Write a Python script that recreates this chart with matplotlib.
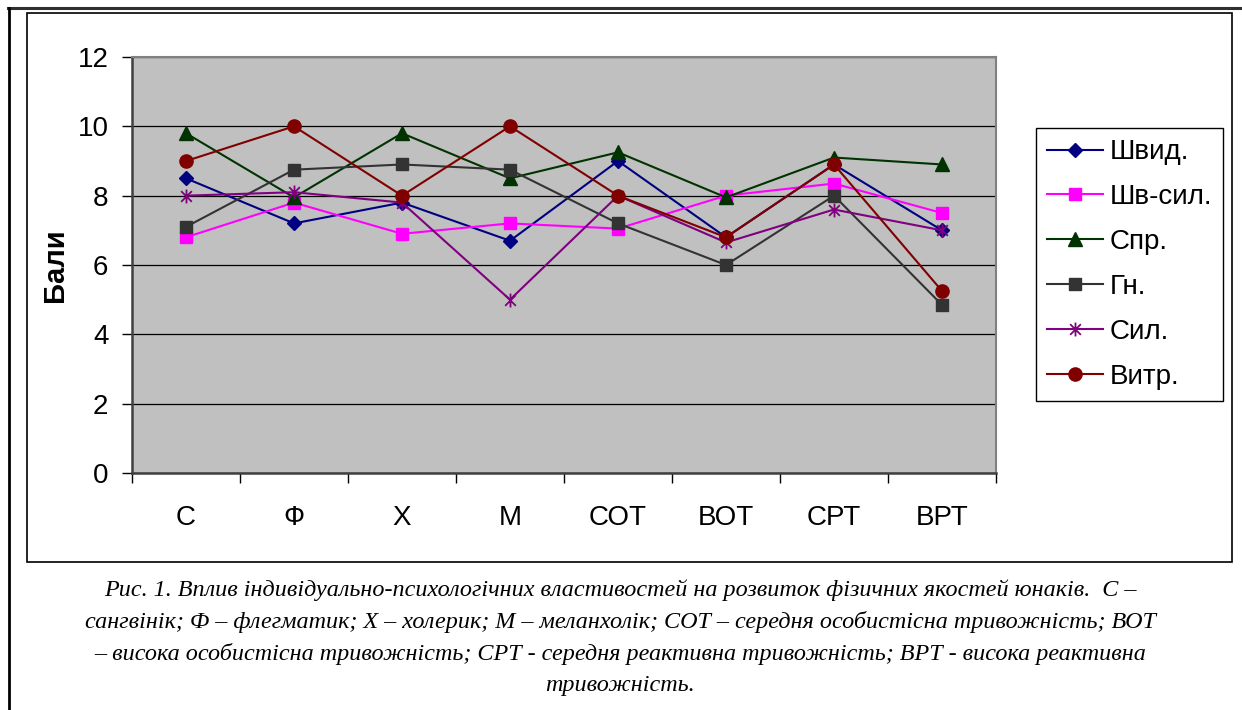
import numpy as np
import matplotlib
matplotlib.use('Agg')
import matplotlib.pyplot as plt
from matplotlib.path import Path
from matplotlib.lines import Line2D
from matplotlib.patches import Rectangle

categories = ['С', 'Ф', 'Х', 'М', 'СОТ', 'ВОТ', 'СРТ', 'ВРТ']

shvyd = [8.5, 7.2, 7.8, 6.7, 9.0, 6.8, 8.9, 7.0]
shv_syl = [6.8, 7.8, 6.9, 7.2, 7.05, 8.0, 8.35, 7.5]
spr = [9.8, 7.95, 9.8, 8.5, 9.25, 7.95, 9.1, 8.9]
gn = [7.1, 8.75, 8.9, 8.75, 7.2, 6.0, 8.0, 4.85]
syl = [8.0, 8.1, 7.8, 5.0, 8.0, 6.65, 7.6, 7.0]
vytr = [9.0, 10.0, 8.0, 10.0, 8.0, 6.8, 8.9, 5.25]

series_names = ['Швид.', 'Шв-сил.', 'Спр.', 'Гн.', 'Сил.', 'Витр.']

caption_lines = [
    'Рис. 1. Вплив індивідуально-психологічних властивостей на розвиток фізичних якостей юнаків.  С –',
    'сангвінік; Ф – флегматик; Х – холерик; М – меланхолік; СОТ – середня особистісна тривожність; ВОТ',
    '– висока особистісна тривожність; СРТ - середня реактивна тривожність; ВРТ - висока реактивна',
    'тривожність.',
]

W, H = 1242, 710


def fx(x):
    return x / W


def fy(y):
    return 1 - y / H


# excel-like asterisk: X with a vertical bar
star = Path([(-1, -1), (1, 1), (-1, 1), (1, -1), (0, -1.3), (0, 1.3)],
            [Path.MOVETO, Path.LINETO, Path.MOVETO, Path.LINETO, Path.MOVETO, Path.LINETO])

styles = [
    dict(color='#000080', marker='D', ms=6.8),
    dict(color='#FF00FF', marker='s', ms=9),
    dict(color='#003300', marker='^', ms=9.5),
    dict(color='#333333', marker='s', ms=9),
    dict(color='#800080', marker=star, ms=10, mew=1.3),
    dict(color='#800000', marker='o', ms=9.5),
]

fig = plt.figure(figsize=(W / 100, H / 100), dpi=100)
fig.patch.set_facecolor('white')

# frames
fig.add_artist(Line2D([fx(8), fx(1242)], [fy(8), fy(8)], color='#303030', lw=2.2))
fig.add_artist(Line2D([fx(9), fx(9)], [fy(8), fy(710)], color='black', lw=2.0))
fig.add_artist(Rectangle((fx(27), fy(562)), fx(1232) - fx(27), fy(13) - fy(562),
                         fill=False, edgecolor='black', lw=1.2))

ax = fig.add_axes([fx(132), fy(473), fx(996) - fx(132), fy(57) - fy(473)])
ax.set_facecolor('#C0C0C0')

x = np.arange(len(categories)) + 0.5
all_series = [shvyd, shv_syl, spr, gn, syl, vytr]
for vals, name, st in zip(all_series, series_names, styles):
    ax.plot(x, vals, label=name, lw=1.5, color=st['color'], marker=st['marker'],
            ms=st['ms'], mfc=st['color'], mec=st['color'], mew=st.get('mew', 1.0))

ax.set_xlim(0, len(categories))
ax.set_ylim(0, 12)
ax.set_yticks(np.arange(0, 13, 2))
ax.set_xticks(np.arange(0, len(categories) + 1))
ax.set_xticklabels([])
ax.set_xticks(x, minor=True)
ax.set_xticklabels(categories, minor=True)
ax.tick_params(axis='x', which='minor', length=0, pad=23, labelsize=20)
ax.tick_params(axis='x', which='major', length=7, width=1, color='black', direction='out')
ax.tick_params(axis='y', length=7, width=1, color='black', pad=10, labelsize=20)
for lab in ax.get_xticklabels(minor=True) + ax.get_yticklabels():
    lab.set_fontfamily('Liberation Sans')

ax.grid(axis='y', color='black', lw=0.9)
ax.set_axisbelow(True)
for side in ['left', 'bottom']:
    ax.spines[side].set_color('#404040')
    ax.spines[side].set_linewidth(1.8)
for side in ['top', 'right']:
    ax.spines[side].set_color('#808080')
    ax.spines[side].set_linewidth(1.5)

fig.text(fx(55), fy(265), 'Бали', rotation=90, ha='center', va='center',
         fontsize=21, fontweight='bold', family='Liberation Sans')

leg = fig.legend(loc='center', bbox_to_anchor=(fx(1129.5), fy(264.5)),
                 prop={'family': 'Liberation Sans', 'size': 20},
                 frameon=True, fancybox=False, edgecolor='black', framealpha=1,
                 handlelength=2.0, handletextpad=0.25, labelspacing=0.68,
                 borderpad=0.4, borderaxespad=0)
leg.get_frame().set_linewidth(1.0)

line_y = [590, 622, 654, 685]
for txt, yy in zip(caption_lines, line_y):
    fig.text(fx(620), fy(yy), txt, ha='center', va='center', fontsize=17.4,
             style='italic', family='Liberation Serif')

fig.savefig('out.png', dpi=100)
